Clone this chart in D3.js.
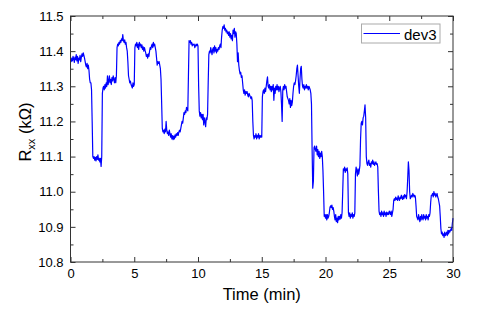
<!DOCTYPE html>
<html>
<head>
<meta charset="utf-8">
<script src="https://cdn.jsdelivr.net/npm/d3@7"></script>
<style>
  body { margin: 0; background: #fff; }
  svg { display: block; font-family: "Liberation Sans", Arial, sans-serif; }
</style>
</head>
<body>
<div id="chart"></div>
<script>
// Rxx vs time, dev3
const seriesName = "dev3";
const xTicks = [0, 5, 10, 15, 20, 25, 30];
const yTicks = [10.8, 10.9, 11.0, 11.1, 11.2, 11.3, 11.4, 11.5];

// [time (min), Rxx (kOhm)]
const dev3 = [
  [0.00, 11.375], [0.05, 11.37], [0.10, 11.38], [0.15, 11.372], [0.20, 11.385], [0.25, 11.378],
  [0.30, 11.368], [0.35, 11.383], [0.40, 11.376], [0.45, 11.39], [0.50, 11.372], [0.55, 11.385],
  [0.60, 11.365], [0.65, 11.38], [0.70, 11.375], [0.75, 11.388], [0.80, 11.37], [0.85, 11.382],
  [0.90, 11.392], [0.95, 11.385], [1.00, 11.395], [1.05, 11.388], [1.10, 11.38], [1.15, 11.37],
  [1.20, 11.36], [1.25, 11.355], [1.30, 11.365], [1.35, 11.35], [1.40, 11.36], [1.45, 11.345],
  [1.50, 11.32], [1.55, 11.31], [1.60, 11.31], [1.65, 11.29], [1.70, 11.20], [1.75, 11.10],
  [1.80, 11.095], [1.85, 11.10], [1.90, 11.09], [1.95, 11.098], [2.00, 11.088], [2.05, 11.10],
  [2.10, 11.092], [2.15, 11.105], [2.20, 11.09], [2.25, 11.095], [2.30, 11.085], [2.35, 11.095],
  [2.40, 11.072], [2.45, 11.10], [2.50, 11.28], [2.55, 11.295], [2.60, 11.30], [2.65, 11.29],
  [2.70, 11.305], [2.75, 11.295], [2.80, 11.31], [2.85, 11.30], [2.90, 11.33], [2.95, 11.305],
  [3.00, 11.315], [3.05, 11.33], [3.10, 11.31], [3.15, 11.32], [3.20, 11.305], [3.25, 11.325],
  [3.30, 11.315], [3.35, 11.33], [3.40, 11.32], [3.45, 11.31], [3.50, 11.325], [3.55, 11.31],
  [3.60, 11.33], [3.65, 11.41], [3.70, 11.42], [3.75, 11.415], [3.80, 11.425], [3.85, 11.42],
  [3.90, 11.43], [3.95, 11.425], [4.00, 11.435], [4.05, 11.43], [4.10, 11.447], [4.15, 11.43],
  [4.20, 11.425], [4.25, 11.432], [4.30, 11.42], [4.35, 11.425], [4.40, 11.41], [4.45, 11.40],
  [4.50, 11.37], [4.55, 11.33], [4.60, 11.32], [4.65, 11.31], [4.70, 11.315], [4.75, 11.305],
  [4.80, 11.30], [4.85, 11.295], [4.90, 11.31], [4.95, 11.30], [5.00, 11.305], [5.05, 11.41],
  [5.10, 11.42], [5.15, 11.415], [5.20, 11.425], [5.25, 11.41], [5.30, 11.42], [5.35, 11.405],
  [5.40, 11.425], [5.45, 11.415], [5.50, 11.42], [5.55, 11.41], [5.60, 11.418], [5.65, 11.405],
  [5.70, 11.412], [5.75, 11.40], [5.80, 11.41], [5.85, 11.402], [5.90, 11.395], [5.95, 11.385],
  [6.00, 11.39], [6.05, 11.38], [6.10, 11.392], [6.15, 11.385], [6.20, 11.40], [6.25, 11.41],
  [6.30, 11.405], [6.35, 11.415], [6.40, 11.42], [6.45, 11.41], [6.50, 11.425], [6.55, 11.415],
  [6.60, 11.42], [6.65, 11.41], [6.70, 11.40], [6.75, 11.38], [6.80, 11.36], [6.85, 11.37],
  [6.90, 11.365], [6.95, 11.37], [7.00, 11.36], [7.05, 11.35], [7.10, 11.32], [7.15, 11.25],
  [7.20, 11.18], [7.25, 11.17], [7.30, 11.175], [7.35, 11.165], [7.40, 11.178], [7.45, 11.17],
  [7.50, 11.20], [7.55, 11.175], [7.60, 11.165], [7.65, 11.17], [7.70, 11.16], [7.75, 11.175],
  [7.80, 11.165], [7.85, 11.155], [7.90, 11.165], [7.95, 11.15], [8.00, 11.16], [8.05, 11.148],
  [8.10, 11.158], [8.15, 11.15], [8.20, 11.162], [8.25, 11.155], [8.30, 11.165], [8.35, 11.16],
  [8.40, 11.168], [8.45, 11.16], [8.50, 11.17], [8.55, 11.175], [8.60, 11.17], [8.65, 11.18],
  [8.70, 11.19], [8.75, 11.20], [8.80, 11.195], [8.85, 11.21], [8.90, 11.225], [8.95, 11.22],
  [9.00, 11.23], [9.05, 11.225], [9.10, 11.24], [9.15, 11.235], [9.20, 11.23], [9.25, 11.33],
  [9.30, 11.43], [9.35, 11.425], [9.40, 11.43], [9.45, 11.42], [9.50, 11.425], [9.55, 11.415],
  [9.60, 11.42], [9.65, 11.418], [9.70, 11.42], [9.75, 11.41], [9.80, 11.415], [9.85, 11.42],
  [9.90, 11.415], [9.95, 11.42], [10.00, 11.415], [10.05, 11.30], [10.10, 11.23], [10.15, 11.215],
  [10.20, 11.225], [10.25, 11.21], [10.30, 11.22], [10.35, 11.205], [10.40, 11.22], [10.45, 11.19],
  [10.50, 11.21], [10.55, 11.20], [10.60, 11.185], [10.65, 11.21], [10.70, 11.205], [10.75, 11.22],
  [10.80, 11.31], [10.85, 11.39], [10.90, 11.40], [10.95, 11.395], [11.00, 11.41], [11.05, 11.40],
  [11.10, 11.39], [11.15, 11.405], [11.20, 11.41], [11.25, 11.395], [11.30, 11.415], [11.35, 11.40],
  [11.40, 11.41], [11.45, 11.395], [11.50, 11.405], [11.55, 11.40], [11.60, 11.41], [11.65, 11.405],
  [11.70, 11.415], [11.75, 11.42], [11.80, 11.41], [11.85, 11.44], [11.90, 11.46], [11.95, 11.47],
  [12.00, 11.465], [12.05, 11.475], [12.10, 11.46], [12.15, 11.465], [12.20, 11.455], [12.25, 11.46],
  [12.30, 11.45], [12.35, 11.455], [12.40, 11.445], [12.45, 11.455], [12.50, 11.44], [12.55, 11.45],
  [12.60, 11.435], [12.65, 11.445], [12.70, 11.43], [12.75, 11.46], [12.80, 11.45], [12.85, 11.465],
  [12.90, 11.44], [12.95, 11.455], [13.00, 11.45], [13.05, 11.42], [13.10, 11.37], [13.15, 11.395],
  [13.20, 11.36], [13.25, 11.345], [13.30, 11.335], [13.35, 11.34], [13.40, 11.325], [13.45, 11.33],
  [13.50, 11.31], [13.55, 11.29], [13.60, 11.28], [13.65, 11.29], [13.70, 11.275], [13.75, 11.285],
  [13.80, 11.28], [13.85, 11.285], [13.90, 11.275], [13.95, 11.27], [14.00, 11.28], [14.05, 11.275],
  [14.10, 11.27], [14.15, 11.265], [14.20, 11.27], [14.25, 11.26], [14.30, 11.20], [14.35, 11.16],
  [14.40, 11.15], [14.45, 11.16], [14.50, 11.155], [14.55, 11.165], [14.60, 11.15], [14.65, 11.16],
  [14.70, 11.155], [14.75, 11.165], [14.80, 11.15], [14.85, 11.16], [14.90, 11.155], [14.95, 11.16],
  [15.00, 11.155], [15.05, 11.27], [15.10, 11.285], [15.15, 11.29], [15.20, 11.28], [15.25, 11.295],
  [15.30, 11.285], [15.35, 11.30], [15.40, 11.315], [15.45, 11.327], [15.50, 11.30], [15.55, 11.295],
  [15.60, 11.305], [15.65, 11.29], [15.70, 11.30], [15.75, 11.285], [15.80, 11.30], [15.85, 11.29],
  [15.90, 11.305], [15.95, 11.26], [16.00, 11.295], [16.05, 11.28], [16.10, 11.30], [16.15, 11.29],
  [16.20, 11.305], [16.25, 11.29], [16.30, 11.30], [16.35, 11.285], [16.40, 11.295], [16.45, 11.30],
  [16.50, 11.285], [16.55, 11.25], [16.60, 11.20], [16.65, 11.29], [16.70, 11.30], [16.75, 11.29],
  [16.80, 11.305], [16.85, 11.295], [16.90, 11.30], [16.95, 11.285], [17.00, 11.27], [17.05, 11.265],
  [17.10, 11.26], [17.15, 11.25], [17.20, 11.265], [17.25, 11.24], [17.30, 11.26], [17.35, 11.245],
  [17.40, 11.255], [17.45, 11.28], [17.50, 11.30], [17.55, 11.31], [17.60, 11.305], [17.65, 11.315],
  [17.70, 11.33], [17.75, 11.35], [17.80, 11.36], [17.85, 11.33], [17.90, 11.30], [17.95, 11.28],
  [18.00, 11.32], [18.05, 11.35], [18.10, 11.357], [18.15, 11.32], [18.20, 11.30], [18.25, 11.295],
  [18.30, 11.305], [18.35, 11.29], [18.40, 11.30], [18.45, 11.295], [18.50, 11.305], [18.55, 11.295],
  [18.60, 11.30], [18.65, 11.29], [18.70, 11.30], [18.75, 11.295], [18.80, 11.29], [18.85, 11.28],
  [18.90, 11.25], [18.95, 11.12], [19.00, 11.01], [19.05, 11.03], [19.10, 11.125], [19.15, 11.13],
  [19.20, 11.12], [19.25, 11.115], [19.30, 11.13], [19.35, 11.105], [19.40, 11.12], [19.45, 11.10],
  [19.50, 11.115], [19.55, 11.095], [19.60, 11.11], [19.65, 11.10], [19.70, 11.115], [19.75, 11.10],
  [19.80, 11.06], [19.85, 11.00], [19.90, 10.93], [19.95, 10.935], [20.00, 10.925], [20.05, 10.935],
  [20.10, 10.92], [20.15, 10.935], [20.20, 10.925], [20.25, 10.93], [20.30, 10.94], [20.35, 10.955],
  [20.40, 10.96], [20.45, 10.955], [20.50, 10.962], [20.55, 10.95], [20.60, 10.955], [20.65, 10.945],
  [20.70, 10.93], [20.75, 10.92], [20.80, 10.935], [20.85, 10.915], [20.90, 10.925], [20.95, 10.912],
  [21.00, 10.93], [21.05, 10.92], [21.10, 10.93], [21.15, 10.922], [21.20, 10.935], [21.25, 10.925],
  [21.30, 10.94], [21.35, 11.00], [21.40, 11.065], [21.45, 11.06], [21.50, 11.07], [21.55, 11.055],
  [21.60, 11.065], [21.65, 11.06], [21.70, 11.068], [21.75, 11.05], [21.80, 10.94], [21.85, 10.93],
  [21.90, 10.94], [21.95, 10.925], [22.00, 10.935], [22.05, 10.93], [22.10, 10.94], [22.15, 10.925],
  [22.20, 10.935], [22.25, 10.93], [22.30, 10.94], [22.35, 11.05], [22.40, 11.07], [22.45, 11.06],
  [22.50, 11.045], [22.55, 11.065], [22.60, 11.05], [22.65, 11.06], [22.70, 11.075], [22.75, 11.15],
  [22.80, 11.195], [22.85, 11.20], [22.90, 11.19], [22.95, 11.21], [23.00, 11.215], [23.05, 11.23],
  [23.10, 11.247], [23.15, 11.21], [23.20, 11.10], [23.25, 11.08], [23.30, 11.075], [23.35, 11.085],
  [23.40, 11.09], [23.45, 11.075], [23.50, 11.08], [23.55, 11.07], [23.60, 11.085], [23.65, 11.08],
  [23.70, 11.09], [23.75, 11.078], [23.80, 11.085], [23.85, 11.075], [23.90, 11.08], [23.95, 11.085],
  [24.00, 11.078], [24.05, 11.08], [24.10, 11.07], [24.15, 11.00], [24.20, 10.945], [24.25, 10.935],
  [24.30, 10.94], [24.35, 10.93], [24.40, 10.945], [24.45, 10.935], [24.50, 10.94], [24.55, 10.93],
  [24.60, 10.945], [24.65, 10.935], [24.70, 10.94], [24.75, 10.93], [24.80, 10.942], [24.85, 10.935],
  [24.90, 10.94], [24.95, 10.935], [25.00, 10.945], [25.05, 10.94], [25.10, 10.935], [25.15, 10.945],
  [25.20, 10.93], [25.25, 10.94], [25.30, 10.95], [25.35, 10.975], [25.40, 10.98], [25.45, 10.975],
  [25.50, 10.985], [25.55, 10.978], [25.60, 10.982], [25.65, 10.975], [25.70, 10.988], [25.75, 10.98],
  [25.80, 10.975], [25.85, 10.985], [25.90, 10.98], [25.95, 10.99], [26.00, 10.982], [26.05, 10.978],
  [26.10, 10.988], [26.15, 10.98], [26.20, 10.992], [26.25, 10.985], [26.30, 10.99], [26.35, 10.98],
  [26.40, 11.00], [26.45, 11.04], [26.50, 11.085], [26.55, 11.06], [26.60, 11.00], [26.65, 10.98],
  [26.70, 10.985], [26.75, 10.99], [26.80, 10.985], [26.85, 10.995], [26.90, 10.99], [26.95, 10.985],
  [27.00, 10.99], [27.05, 10.985], [27.10, 10.96], [27.15, 10.93], [27.20, 10.925], [27.25, 10.92],
  [27.30, 10.935], [27.35, 10.925], [27.40, 10.915], [27.45, 10.93], [27.50, 10.92], [27.55, 10.935],
  [27.60, 10.925], [27.65, 10.92], [27.70, 10.935], [27.75, 10.925], [27.80, 10.93], [27.85, 10.92],
  [27.90, 10.935], [27.95, 10.925], [28.00, 10.93], [28.05, 10.92], [28.10, 10.935], [28.15, 10.93],
  [28.20, 10.94], [28.25, 10.97], [28.30, 10.99], [28.35, 10.99], [28.40, 10.995], [28.45, 10.985],
  [28.50, 11.00], [28.55, 10.99], [28.60, 10.995], [28.65, 10.985], [28.70, 10.99], [28.75, 10.995],
  [28.80, 10.985], [28.85, 10.98], [28.90, 10.97], [28.95, 10.96], [29.00, 10.93], [29.05, 10.895],
  [29.10, 10.88], [29.15, 10.885], [29.20, 10.875], [29.25, 10.88], [29.30, 10.87], [29.35, 10.885],
  [29.40, 10.875], [29.45, 10.88], [29.50, 10.885], [29.55, 10.875], [29.60, 10.89], [29.65, 10.88],
  [29.70, 10.89], [29.75, 10.885], [29.80, 10.89], [29.85, 10.895], [29.90, 10.89], [29.95, 10.91],
  [30.00, 10.925]
];

const width = 498, height = 309;
const margin = { top: 16, right: 45, bottom: 47, left: 70.5 };

const svg = d3.select("#chart").append("svg")
    .attr("width", width)
    .attr("height", height);

const x = d3.scaleLinear().domain([0, 30]).range([margin.left, width - margin.right]);
const y = d3.scaleLinear().domain([10.8, 11.5]).range([height - margin.bottom, margin.top]);

const axisColor = "#333";
const minorX = d3.range(2.5, 30, 5);
const minorY = d3.range(10.85, 11.5, 0.1);

function styleAxis(g) {
    g.select(".domain").remove();
    g.selectAll(".tick line").attr("stroke", axisColor);
    g.selectAll(".tick text").attr("fill", "#000").attr("font-size", 13);
}

// bottom
svg.append("g")
    .attr("transform", `translate(0,${y.range()[0]})`)
    .call(d3.axisBottom(x).tickValues(xTicks).tickSize(-5).tickPadding(7))
    .call(styleAxis);
svg.append("g")
    .attr("transform", `translate(0,${y.range()[0]})`)
    .call(d3.axisBottom(x).tickValues(minorX).tickSize(-3).tickFormat(""))
    .call(styleAxis);
// top
svg.append("g")
    .attr("transform", `translate(0,${y.range()[1]})`)
    .call(d3.axisTop(x).tickValues(xTicks).tickSize(-5).tickFormat(""))
    .call(styleAxis);
svg.append("g")
    .attr("transform", `translate(0,${y.range()[1]})`)
    .call(d3.axisTop(x).tickValues(minorX).tickSize(-3).tickFormat(""))
    .call(styleAxis);
// left
svg.append("g")
    .attr("transform", `translate(${x.range()[0]},0)`)
    .call(d3.axisLeft(y).tickValues(yTicks).tickSize(-5).tickPadding(7).tickFormat(d3.format(".1f")))
    .call(styleAxis);
svg.append("g")
    .attr("transform", `translate(${x.range()[0]},0)`)
    .call(d3.axisLeft(y).tickValues(minorY).tickSize(-3).tickFormat(""))
    .call(styleAxis);
// right
svg.append("g")
    .attr("transform", `translate(${x.range()[1]},0)`)
    .call(d3.axisRight(y).tickValues(yTicks).tickSize(-5).tickFormat(""))
    .call(styleAxis);
svg.append("g")
    .attr("transform", `translate(${x.range()[1]},0)`)
    .call(d3.axisRight(y).tickValues(minorY).tickSize(-3).tickFormat(""))
    .call(styleAxis);

// data line
const line = d3.line()
    .x(d => x(d[0]))
    .y(d => y(d[1]));

svg.append("path")
    .datum(dev3)
    .attr("fill", "none")
    .attr("stroke", "#0000ff")
    .attr("stroke-width", 1.2)
    .attr("stroke-linejoin", "round")
    .attr("d", line);

// frame
svg.append("rect")
    .attr("x", x.range()[0])
    .attr("y", y.range()[1])
    .attr("width", x.range()[1] - x.range()[0])
    .attr("height", y.range()[0] - y.range()[1])
    .attr("fill", "none")
    .attr("stroke", axisColor)
    .attr("stroke-width", 1);

// axis titles
svg.append("text")
    .attr("x", (x.range()[0] + x.range()[1]) / 2)
    .attr("y", 300)
    .attr("text-anchor", "middle")
    .attr("font-size", 16.5)
    .text("Time (min)");

const yTitle = svg.append("text")
    .attr("transform", "translate(31,132) rotate(-90)")
    .attr("text-anchor", "middle")
    .attr("font-size", 16.5);
yTitle.append("tspan").text("R");
yTitle.append("tspan").attr("font-size", 11).attr("dy", 4).text("xx");
yTitle.append("tspan").attr("dy", -4).text(" (kΩ)");

// legend
const lg = svg.append("g").attr("transform", "translate(361.5,24)");
lg.append("rect")
    .attr("width", 78.5)
    .attr("height", 19)
    .attr("fill", "#fff")
    .attr("stroke", "#aaa");
lg.append("line")
    .attr("x1", 2).attr("x2", 38.5)
    .attr("y1", 9.5).attr("y2", 9.5)
    .attr("stroke", "#0000ff")
    .attr("stroke-width", 1.2);
lg.append("text")
    .attr("x", 42.5)
    .attr("y", 15.5)
    .attr("font-size", 15)
    .text(seriesName);
</script>
</body>
</html>
